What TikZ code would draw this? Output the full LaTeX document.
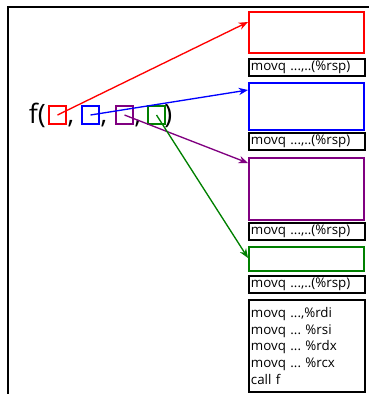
\documentclass[tikz,border=0pt]{standalone}
\usepackage{fontspec}
\setmainfont{Open Sans}
\usetikzlibrary{arrows.meta}
\frenchspacing

\definecolor{argpurple}{RGB}{128,0,128}
\definecolor{arggreen}{RGB}{0,128,0}

\begin{document}
\begin{tikzpicture}[x=0.75pt, y=-0.75pt, >={Stealth[length=7pt,width=5.5pt]},
    frame/.style={draw, line width=1.4pt, minimum width=86.5pt, inner sep=0pt, anchor=north west},
    spill/.style={frame, black, minimum height=13pt, text width=84pt, inner xsep=1.5pt,
      align=left, font=\fontsize{10}{11}\selectfont},
    argbox/.style={draw, line width=1.2pt, minimum width=12.5pt, minimum height=13.5pt, inner sep=0pt},
    big/.style={font=\fontsize{20}{22}\selectfont, inner sep=0pt},
    link/.style={->, line width=1pt}]
    %% Background
    \useasboundingbox (0,0) rectangle (369,394);
    \draw[line width=1.8pt] (8,394) -- (8,7) -- (369,7);

    %% Call
    \node[big, anchor=base west] (fopen) at (28.5,123) {f(};
    \node[argbox, red] (redarg) at (57.5,115) {};
    \node[big, anchor=base] (comma1) at (71,123) {,};
    \node[argbox, blue] (bluearg) at (90.5,115) {};
    \node[big, anchor=base] (comma2) at (104,123) {,};
    \node[argbox, argpurple] (purplearg) at (124.5,115) {};
    \node[big, anchor=base] (comma3) at (138,123) {,};
    \node[argbox, arggreen] (greenarg) at (156.5,115) {};
    \node[big, anchor=base west] (fclose) at (164,123) {)};

    %% Stack
    \node[frame, red, minimum height=30.5pt] (redframe) at (248,11) {};
    \node[spill] (spill1) at (248,58) {movq ...,..(\%rsp)};
    \node[frame, blue, minimum height=35pt] (blueframe) at (248,82) {};
    \node[spill] (spill2) at (248,132) {movq ...,..(\%rsp)};
    \node[frame, argpurple, minimum height=46.5pt] (purpleframe) at (248,157) {};
    \node[spill] (spill3) at (248,222) {movq ...,..(\%rsp)};
    \node[frame, arggreen, minimum height=18pt] (greenframe) at (248,246) {};
    \node[spill] (spill4) at (248,275) {movq ...,..(\%rsp)};
    \node[spill, minimum height=69pt, font=\fontsize{10}{12.4}\selectfont] (callseq) at (248,299)
      {movq ...,\%rdi\\movq ... \%rsi\\movq ... \%rdx\\movq ... \%rcx\\call f};

    %% Arrows
    \coordinate (redin) at (248,22);
    \coordinate (bluein) at (248,90);
    \coordinate (purplein) at (248,163);
    \coordinate (greenin) at (248,258);
    \draw[link, red] (redarg.center) -- (redin);
    \draw[link, blue] (bluearg.center) -- (bluein);
    \draw[link, argpurple] (purplearg.center) -- (purplein);
    \draw[link, arggreen] (greenarg.center) -- (greenin);
\end{tikzpicture}
\end{document}
